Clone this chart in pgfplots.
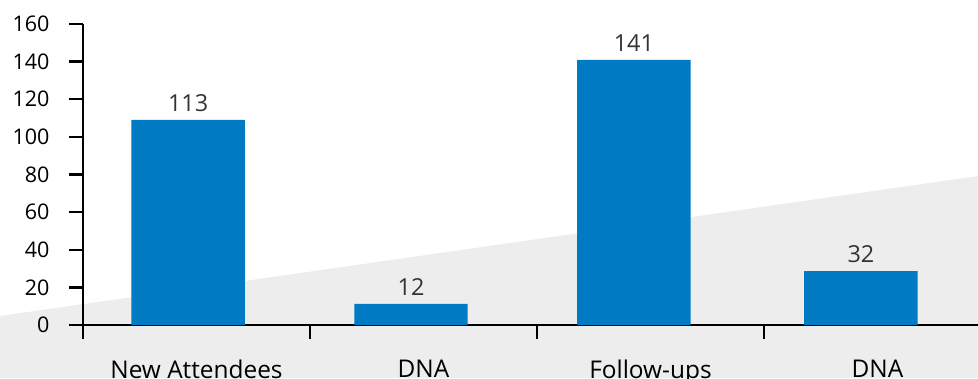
\documentclass[border=0pt]{standalone}
\usepackage{pgfplots}
\pgfplotsset{compat=1.18}
\usepackage{fontspec}
\setmainfont{Open Sans}
\definecolor{barblue}{RGB}{0,122,194}
\definecolor{bggray}{RGB}{237,237,237}
\newcommand{\labfont}{\fontsize{24.5}{26}\selectfont}
\begin{document}
\begin{tikzpicture}[x=1bp,y=1bp]
\fill[bggray] (0,62) -- (978,202) -- (978,0) -- (0,0) -- cycle;
\begin{axis}[
  anchor=south west, at={(83bp,53bp)},
  scale only axis, width=895bp, height=301bp,
  xmin=-0.5, xmax=3.443, ymin=0, ymax=160,
  axis x line=bottom, axis y line=left,
  axis line style={-, line width=2.5bp, black},
  ytick={0,20,...,160},
  yticklabel={\scalebox{0.72}{\fontsize{30}{32}\selectfont\pgfmathprintnumber[assume math mode=true]{\tick}}},
  yticklabel style={xshift=-16bp},
  xtick={-0.5,0.5,1.5,2.5}, xticklabels={},
  extra x ticks={0,1,2,3},
  extra x tick labels={{\labfont New Attendees},{\labfont DNA},{\labfont Follow-ups},{\labfont DNA}},
  extra x tick style={major tick length=0pt, tick style={draw=none},
    xticklabel style={anchor=north, yshift=-31bp}},
  tick align=outside, major tick length=14bp,
  tick style={black, line width=2.5bp},
  nodes near coords, point meta=explicit symbolic,
  nodes near coords style={font=\fontsize{23.5}{25}\selectfont, text=black!80, yshift=5bp},
  clip=false,
]
\addplot[ybar, bar width=0.5, fill=barblue, draw=none] table[meta=lab] {
x y lab
-0.037 109 113
0.945 11.2 12
1.927 140.9 141
2.927 28.7 32
};
\end{axis}
\pgfresetboundingbox
\useasboundingbox (0,0) rectangle (978,378);
\end{tikzpicture}
\end{document}
